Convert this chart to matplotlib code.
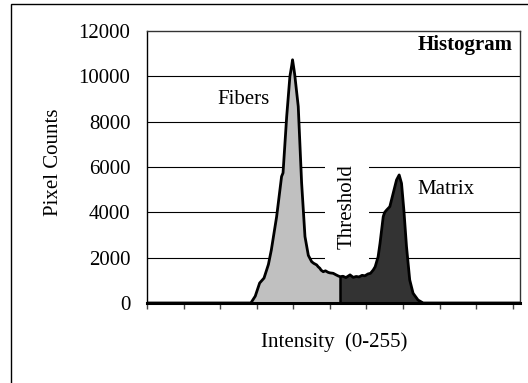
import matplotlib
matplotlib.use('Agg')
import numpy as np
import matplotlib.pyplot as plt
from matplotlib.patches import Rectangle

# histogram outline (intensity, pixel count)
intensity = [0, 71, 74, 77, 80, 83, 85, 88.6, 92, 93, 95.5, 97.7, 99, 99.5, 100.5, 101,
	103.4, 105.7, 108, 110.3, 112.6, 114, 116, 117, 118.2, 119, 120.5, 122, 123.9, 125,
	127.3, 129, 130.5, 132, 134, 136, 138.8, 141, 143, 145, 147, 149, 151, 152.8, 154.7,
	156, 158, 159.3, 161.5, 162.5, 163.8, 166, 168.3, 170.6, 172.4, 174, 175.6, 177.4,
	179.6, 181.9, 185.3, 188.8, 255]
counts = [0, 0, 300, 880, 1100, 1700, 2340, 3800, 5580, 5740, 8230, 10000, 10500, 10730, 10300, 10070,
	8670, 5300, 2930, 2100, 1820, 1750, 1680, 1600, 1530, 1450, 1380, 1420, 1350, 1330,
	1310, 1250, 1200, 1160, 1180, 1120, 1240, 1130, 1170, 1150, 1220, 1200, 1280, 1310, 1460,
	1600, 2040, 2630, 3810, 4000, 4100, 4250, 4840, 5430, 5650, 5280, 4100, 2490,
	1020, 430, 130, 0, 0]
threshold = 132

yticks = [0, 2000, 4000, 6000, 8000, 10000, 12000]
xticks = list(range(0, 251, 25))


def main():
	plt.rcParams['font.family'] = ['Liberation Serif', 'DejaVu Serif']
	plt.rcParams['font.size'] = 15

	x = np.array(intensity, dtype=float)
	y = np.array(counts, dtype=float)

	fig = plt.figure(figsize=(5.28, 3.83), dpi=100)
	ax = fig.add_axes([147/528, 1-303/383, 373/528, 272/383])

	# outer frame
	fig.patches.append(Rectangle((10.5/528, -0.05), 1.2, 1.05-4.3/383, transform=fig.transFigure,
		fill=False, edgecolor='black', linewidth=1))

	ax.set_xlim(0, 255)
	ax.set_ylim(0, 12000)
	for v in yticks[1:-1]:
		ax.axhline(v, color='black', linewidth=0.8, zorder=1)

	ax.fill_between(x, y, where=x <= threshold, color='#c0c0c0', zorder=3, linewidth=0)
	ax.fill_between(x, y, where=x >= threshold, color='#333333', zorder=3, linewidth=0)
	ax.plot(x, y, color='black', linewidth=2, zorder=4, solid_joinstyle='round')
	ax.vlines(threshold, 0, y[x == threshold][0], color='black', linewidth=1.8, zorder=4)

	ax.set_yticks(yticks)
	ax.set_xticks(xticks)
	ax.set_xticklabels([])
	ax.tick_params(axis='y', length=0, pad=12)
	ax.tick_params(axis='x', direction='out', length=4, width=1, color='#444444')

	for s in ['top', 'right']:
		ax.spines[s].set_color('#333333')
		ax.spines[s].set_linewidth(1)
	ax.spines['left'].set_linewidth(1)
	ax.spines['bottom'].set_linewidth(2.2)
	ax.spines['bottom'].set_zorder(5)

	ax.text(0.979, 0.9485, 'Histogram', transform=ax.transAxes, ha='right', va='center',
		fontweight='bold')
	ax.text(48, 8960, 'Fibers', va='center')
	ax.text(185, 4990, 'Matrix', va='center')
	ax.text(137, 4260, 'Threshold', rotation=90, ha='center', va='center', zorder=2,
		bbox=dict(facecolor='white', edgecolor='none', pad=9))

	fig.text(334/528, 1-342/383, 'Intensity  (0-255)', ha='center', va='center')
	fig.text(54/528, 1-162/383, 'Pixel Counts', rotation=90, ha='center', va='center')

	fig.savefig('out.png', dpi=100)


if __name__ == '__main__':
	main()
